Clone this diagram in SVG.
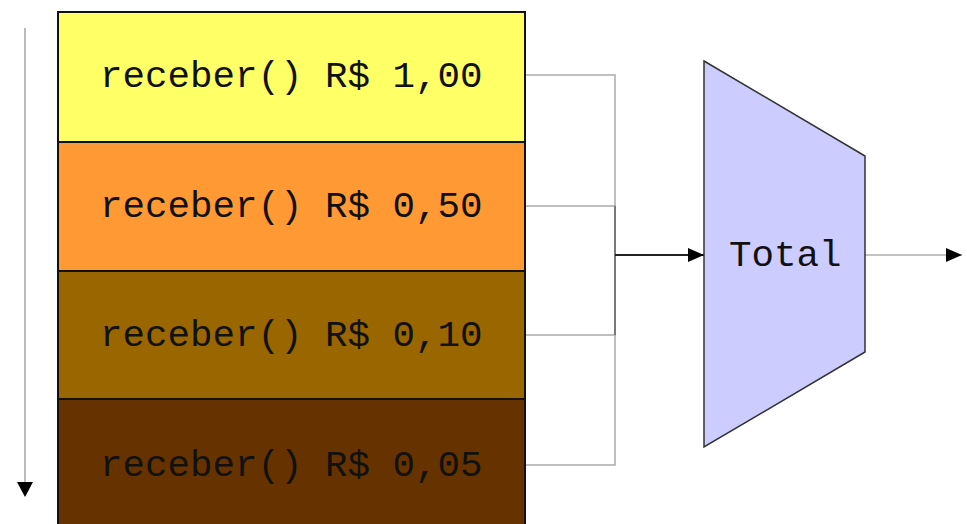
<svg xmlns="http://www.w3.org/2000/svg" width="967" height="524" viewBox="0 0 967 524">
<style>
.lbl{font-family:"Liberation Mono","Courier New",monospace;font-size:37.5px;fill:#111}
.box{stroke:#111;stroke-width:2}
.con{fill:none;stroke:#aaa;stroke-width:1.5}
</style>
<defs>
<marker id="ah2" markerWidth="16" markerHeight="14" refX="16" refY="7" orient="auto" markerUnits="userSpaceOnUse">
<path d="M0,0 L16,7 L0,14 Z" fill="#000"/>
</marker>
</defs>
<rect width="967" height="524" fill="#fff"/>
<g id="timeline">
<line x1="25" y1="28" x2="25" y2="485" stroke="#bbb" stroke-width="2"/>
<path d="M17,482 L33,482 L25,497 Z" fill="#000"/>
</g>
<g id="connectors">
<polyline class="con" points="525,75 615,75 615,255"/>
<polyline class="con" points="525,206 615,206 615,255"/>
<polyline class="con" points="525,335 615,335 615,255"/>
<polyline class="con" points="525,465 615,465 615,255"/>
<line x1="615" y1="206" x2="615" y2="335" stroke="#666" stroke-width="1.5"/>
<line x1="615" y1="255" x2="704" y2="255" stroke="#222" stroke-width="2" marker-end="url(#ah2)"/>
<line x1="865" y1="255" x2="962" y2="255" stroke="#888" stroke-width="1" marker-end="url(#ah2)"/>
</g>
<g id="n100">
<rect class="box" x="58" y="12" width="467" height="130" fill="#ffff66"/>
<text class="lbl" x="100" y="87">receber() R$ 1,00</text>
</g>
<g id="n050">
<rect class="box" x="58" y="142" width="467" height="129" fill="#ff9933"/>
<text class="lbl" x="100" y="217">receber() R$ 0,50</text>
</g>
<g id="n010">
<rect class="box" x="58" y="271" width="467" height="128" fill="#996600"/>
<text class="lbl" x="100" y="346">receber() R$ 0,10</text>
</g>
<g id="n005">
<rect class="box" x="58" y="399" width="467" height="135" fill="#663300"/>
<text class="lbl" x="100" y="476">receber() R$ 0,05</text>
</g>
<g id="total">
<polygon points="704,61 865,156 865,352 704,447" fill="#ccccff" stroke="#333" stroke-width="1.5"/>
<text class="lbl" x="729" y="266">Total</text>
</g>
</svg>
